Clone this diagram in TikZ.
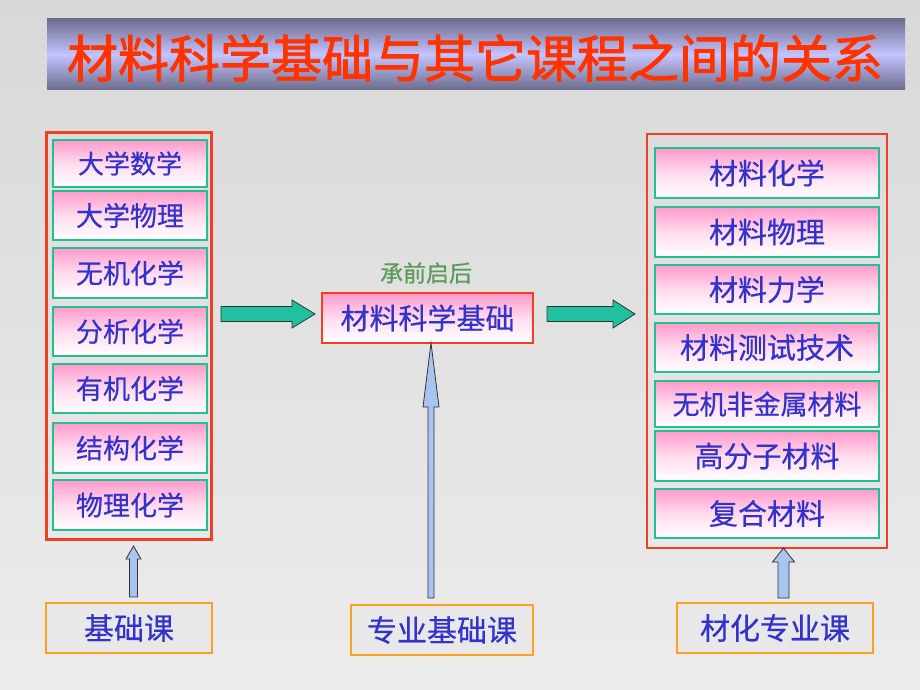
\documentclass[tikz,border=0pt]{standalone}
\usepackage{fontspec}
\newfontfamily\cjk[FakeBold=0.5]{Noto Sans CJK SC}
\newfontfamily\cjktitle[FakeBold=1.6]{Noto Sans CJK SC}
\usetikzlibrary{calc}
\definecolor{bgtop}{HTML}{D8D8D8}
\definecolor{bgbot}{HTML}{ECECEC}
\definecolor{bardark}{HTML}{6C6C8C}
\definecolor{barlight}{HTML}{C4C4FF}
\definecolor{titlered}{HTML}{FF3300}
\definecolor{boxred}{HTML}{F04020}
\definecolor{tealg}{HTML}{20C090}
\definecolor{pinkc}{HTML}{FF99CC}
\definecolor{bluet}{HTML}{3333CC}
\definecolor{greent}{HTML}{5A9A5A}
\definecolor{orangeb}{HTML}{FFA020}
\definecolor{lightblue}{HTML}{A8C4F0}
\definecolor{greenarrow}{HTML}{20C0A0}
\tikzset{
  x=1pt,y=-1pt,
  course/.style={draw=tealg, line width=2.5pt, top color=pinkc, bottom color=white, middle color=pinkc!35,
    inner sep=0pt, text=bluet, font=\cjk\fontsize{27}{27}\selectfont},
  groupbox/.style={draw=boxred, line width=2.5pt, inner sep=0pt},
  catbox/.style={draw=orangeb, line width=2.5pt, fill=bgbot!80!bgtop, inner sep=0pt, minimum height=50pt,
    text=bluet, font=\cjk\fontsize{30}{30}\selectfont},
  uparrowstyle/.style={draw=black!80, line width=0.8pt, fill=lightblue},
  rarrowstyle/.style={draw=black!80, line width=0.8pt, fill=greenarrow},
}
% up block arrow: #1 x-centre, #2 bottom y, #3 tip y, #4 shaft half width, #5 head half width, #6 head length
\newcommand\myuparrow[6]{%
  \draw[uparrowstyle] (#1-#4,#2) -- (#1-#4,#3+#6) -- (#1-#5,#3+#6) -- (#1,#3) -- (#1+#5,#3+#6) -- (#1+#4,#3+#6) -- (#1+#4,#2) -- cycle;}
% right block arrow: #1 left x, #2 tip x, #3 centre y, #4 shaft half height, #5 head half height, #6 head length
\newcommand\myrightarrow[6]{%
  \draw[rarrowstyle] (#1,#3-#4) -- (#2-#6,#3-#4) -- (#2-#6,#3-#5) -- (#2,#3) -- (#2-#6,#3+#5) -- (#2-#6,#3+#4) -- (#1,#3+#4) -- cycle;}
\begin{document}
\begin{tikzpicture}
\useasboundingbox (0,0) rectangle (920,690);
\shade[top color=bgtop, bottom color=bgbot] (0,0) rectangle (920,690);
% title bar
\shade[top color=bardark, bottom color=bardark, middle color=barlight] (47,19) rectangle (905,90);
\node[text=titlered, font=\cjktitle\fontsize{51}{51}\selectfont, inner sep=0pt] (title) at (475,58) {材料科学基础与其它课程之间的关系};

% left group
\node[groupbox, minimum width=165pt, minimum height=407pt] (lgroup) at (129,336) {};
\node[course, minimum width=154pt, minimum height=47pt, font=\cjk\fontsize{26}{26}\selectfont] (l1) at (130,163.5) {大学数学};
\node[course, minimum width=154pt, minimum height=49pt] (l2) at (130,215.5) {大学物理};
\node[course, minimum width=154pt, minimum height=50pt] (l3) at (130,273) {无机化学};
\node[course, minimum width=154pt, minimum height=49pt] (l4) at (130,331.5) {分析化学};
\node[course, minimum width=154pt, minimum height=49pt] (l5) at (130,388.5) {有机化学};
\node[course, minimum width=154pt, minimum height=50pt] (l6) at (130,448) {结构化学};
\node[course, minimum width=154pt, minimum height=50pt] (l7) at (130,505) {物理化学};

% right group
\node[groupbox, minimum width=240pt, minimum height=414pt] (rgroup) at (767,341) {};
\node[course, minimum width=224pt, minimum height=50pt, font=\cjk\fontsize{29}{29}\selectfont] (r1) at (767,173) {材料化学};
\node[course, minimum width=224pt, minimum height=50pt, font=\cjk\fontsize{29}{29}\selectfont] (r2) at (767,232) {材料物理};
\node[course, minimum width=224pt, minimum height=49pt, font=\cjk\fontsize{29}{29}\selectfont] (r3) at (767,289.5) {材料力学};
\node[course, minimum width=224pt, minimum height=49pt, font=\cjk\fontsize{29}{29}\selectfont] (r4) at (767,347.5) {材料测试技术};
\node[course, minimum width=224pt, minimum height=46pt] (r5) at (767,404) {无机非金属材料};
\node[course, minimum width=224pt, minimum height=50pt, font=\cjk\fontsize{29}{29}\selectfont] (r6) at (767,456) {高分子材料};
\node[course, minimum width=224pt, minimum height=49pt, font=\cjk\fontsize{29}{29}\selectfont] (r7) at (767,513.5) {复合材料};

% centre
\node[text=greent, font=\cjk\fontsize{23}{23}\selectfont, inner sep=0pt] (motto) at (426,273) {承前启后};
\node[course, draw=boxred, minimum width=211pt, minimum height=50pt, font=\cjk\fontsize{29}{29}\selectfont] (core) at (427.5,318) {材料科学基础};

% bottom category boxes
\node[catbox, minimum width=166pt] (basic) at (129,628) {基础课};
\node[catbox, minimum width=182pt] (major) at (442,630) {专业基础课};
\node[catbox, minimum width=196pt] (spec) at (775,628) {材化专业课};

% arrows
\myrightarrow{221}{315}{314}{7.5}{14}{23}
\myrightarrow{547}{635}{314}{7.5}{14}{22}
\myuparrow{133.5}{597}{546}{4}{7.5}{13}
\myuparrow{431}{598}{343}{3}{8}{64}
\myuparrow{783.5}{598}{548}{5.5}{11}{14}
\end{tikzpicture}
\end{document}
